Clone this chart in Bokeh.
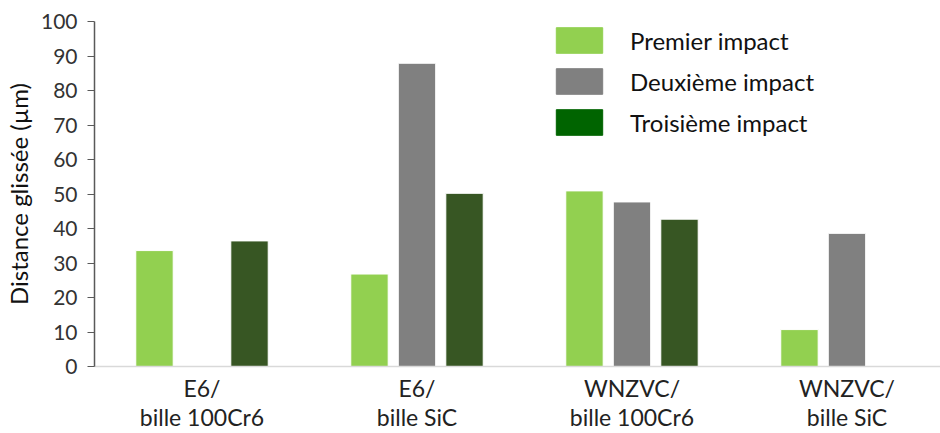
from bokeh.plotting import figure
from bokeh.models import Range1d, FixedTicker, Legend, LegendItem, ColumnDataSource
from bokeh.transform import dodge
from bokeh.embed import file_html
from bokeh.resources import INLINE

categories = ["E6/\nbille 100Cr6", "E6/\nbille SiC", "WNZVC/\nbille 100Cr6", "WNZVC/\nbille SiC"]
series_names = ["Premier impact", "Deuxième impact", "Troisième impact"]
premier = [33.6, 26.8, 50.9, 10.7]
deuxieme = [float("nan"), 87.9, 47.7, 38.6]
troisieme = [36.4, 50.2, 42.7, float("nan")]
y_ticks = [0, 10, 20, 30, 40, 50, 60, 70, 80, 90, 100]

bar_colors = ["#92D050", "#808080", "#375623"]
legend_colors = ["#92D050", "#808080", "#006400"]

xpos = [i + 0.5 for i in range(len(categories))]
src = ColumnDataSource(dict(x=xpos, premier=premier, deuxieme=deuxieme, troisieme=troisieme))

FONT = "Lato"

p = figure(width=940, height=433, output_backend="svg", toolbar_location=None,
           x_range=Range1d(0, 3.935), y_range=Range1d(0, 100),
           min_border_left=94, min_border_right=0, min_border_top=21, min_border_bottom=67)
p.outline_line_color = None
p.xgrid.visible = False
p.ygrid.visible = False

w = 0.174
off = 0.221
r1 = p.vbar(x=dodge("x", -off, range=p.x_range), top="premier", width=w, source=src,
            fill_color=bar_colors[0], line_color="white", line_width=1)
r2 = p.vbar(x=dodge("x", 0, range=p.x_range), top="deuxieme", width=w, source=src,
            fill_color=bar_colors[1], line_color="white", line_width=1)
r3 = p.vbar(x=dodge("x", off, range=p.x_range), top="troisieme", width=w, source=src,
            fill_color=bar_colors[2], line_color="white", line_width=1)

nan = float("nan")
leg_rs = []
for c in legend_colors:
    leg_rs.append(p.vbar(x=[nan], top=[nan], width=w, fill_color=c, line_color=c))

legend = Legend(items=[LegendItem(label=n, renderers=[r]) for n, r in zip(series_names, leg_rs)],
                location=(456, 228), orientation="vertical",
                glyph_width=58, glyph_height=32, spacing=9, label_standoff=22,
                padding=0, margin=0, border_line_color=None, background_fill_alpha=0,
                label_text_font=FONT, label_text_font_size="24px", label_text_color="#111111",
                label_height=26)
p.add_layout(legend)

# x axis
p.xaxis.ticker = FixedTicker(ticks=xpos)
p.xaxis.major_label_overrides = {x: c for x, c in zip(xpos, categories)}
p.xaxis.major_tick_out = 0
p.xaxis.major_tick_in = 0
p.xaxis.minor_tick_out = 0
p.xaxis.minor_tick_in = 0
p.xaxis.axis_line_color = "#d9d9d9"
p.xaxis.axis_line_width = 1.5
p.xaxis.major_label_text_font = FONT
p.xaxis.major_label_text_font_size = "23px"
p.xaxis.major_label_text_line_height = 1.05
p.xaxis.major_label_text_color = "#222222"
p.xaxis.major_label_standoff = 7

# y axis
p.yaxis.ticker = FixedTicker(ticks=y_ticks)
p.yaxis.minor_tick_out = 0
p.yaxis.minor_tick_in = 0
p.yaxis.major_tick_in = 0
p.yaxis.major_tick_out = 7
p.yaxis.major_tick_line_color = "#595959"
p.yaxis.axis_line_color = "#595959"
p.yaxis.axis_line_width = 1.5
p.yaxis.major_label_text_font = FONT
p.yaxis.major_label_text_font_size = "21px"
p.yaxis.major_label_text_color = "#333333"
p.yaxis.major_label_standoff = 10
p.yaxis.axis_label = "Distance glissée (µm)"
p.yaxis.axis_label_text_font = FONT
p.yaxis.axis_label_text_font_size = "24px"
p.yaxis.axis_label_text_font_style = "normal"
p.yaxis.axis_label_text_color = "#111111"
p.yaxis.axis_label_standoff = 5

open("out.html", "w").write(file_html(p, INLINE))
